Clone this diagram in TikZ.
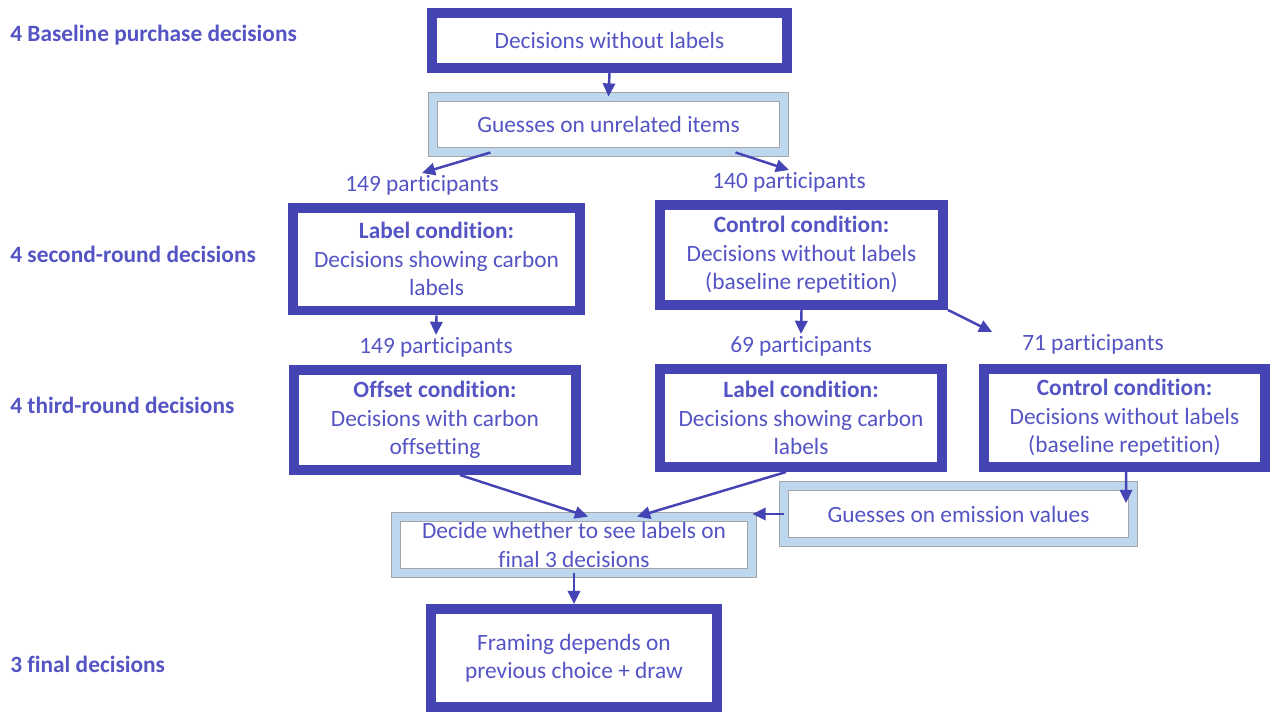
\documentclass[tikz,border=0pt]{standalone}
\usepackage{fontspec}
\setmainfont{Carlito}[Ligatures=NoCommon]
\usetikzlibrary{arrows.meta}
\definecolor{flowblue}{RGB}{68,68,180}
\definecolor{flowtext}{RGB}{84,84,196}
\definecolor{guessfill}{RGB}{189,215,238}
\definecolor{guessline}{RGB}{165,165,165}

\begin{document}
\begin{tikzpicture}[x=0.02cm, y=-0.02cm,
    every node/.style={text=flowtext, font=\fontsize{13.3}{16.2}\selectfont, align=center},
    block/.style={draw=flowblue, line width=0.2cm, fill=white, inner sep=0pt},
    guess/.style={draw=guessline, line width=0.5pt, double=guessfill, double distance=0.16cm, fill=white, inner sep=0pt},
    stage/.style={anchor=west, inner sep=0pt, font=\fontsize{13.3}{16.2}\selectfont\bfseries},
    count/.style={inner sep=1pt},
    arr/.style={draw=flowblue, line width=1.4pt, -{Triangle[length=7.5pt,width=7pt]}}]
    \useasboundingbox (0,0) rectangle (1273,711);

    \node[stage] (st1) at (10,35) {4 Baseline purchase decisions};
    \node[stage] (st2) at (10,254) {4 second-round decisions};
    \node[stage] (st3) at (10,405) {4 third-round decisions};
    \node[stage] (st4) at (10,664) {3 final decisions};

    \node[block, minimum width=7.1cm, minimum height=1.1cm] (base) at (609.5,40.5) {Decisions without labels};
    \node[guess, minimum width=7.02cm, minimum height=1.1cm] (unrel) at (608.5,124.5) {Guesses on unrelated items};

    \node[count] (p1) at (422,185) {149 participants};
    \node[count] (p2) at (789,182) {140 participants};

    \node[block, minimum width=5.74cm, minimum height=2.06cm] (lab2) at (436.5,259) {\textbf{Label condition:}\\Decisions showing carbon\\labels};
    \node[block, minimum width=5.66cm, minimum height=2cm] (ctl2) at (801.5,255) {\textbf{Control condition:}\\Decisions without labels\\(baseline repetition)};

    \node[count] (p3) at (436,347) {149 participants};
    \node[count] (p4) at (801,346) {69 participants};
    \node[count] (p5) at (1093,344) {71 participants};

    \node[block, minimum width=5.64cm, minimum height=2cm] (off3) at (435,420) {\textbf{Offset condition:}\\Decisions with carbon\\offsetting};
    \node[block, minimum width=5.64cm, minimum height=1.96cm] (lab3) at (801,418) {\textbf{Label condition:}\\Decisions showing carbon\\labels};
    \node[block, minimum width=5.62cm, minimum height=1.96cm] (ctl3) at (1124.5,418) {\textbf{Control condition:}\\Decisions without labels\\(baseline repetition)};

    \node[guess, minimum width=7.12cm, minimum height=1.12cm] (decide) at (574,545) {Decide whether to see labels on\\final 3 decisions};
    \node[guess, minimum width=6.98cm, minimum height=1.12cm] (emis) at (958.5,514) {Guesses on emission values};

    \node[block, minimum width=5.72cm, minimum height=1.96cm] (frame) at (574,658) {Framing depends on\\previous choice + draw};
    \coordinate (emtip) at (1126,503);

    \draw[arr] (base.south) -- (unrel.north);
    \draw[arr] ([xshift=-2.36cm]unrel.south) -- (p1.north);
    \draw[arr] ([xshift=2.54cm]unrel.south) -- (p2.north);
    \draw[arr] (lab2.south) -- (p3.north);
    \draw[arr] (ctl2.south) -- (p4.north);
    \draw[arr] (ctl2.south east) -- ([xshift=-0.56cm]p5.north west);
    \draw[arr] ([xshift=0.5cm]off3.south) -- ([xshift=0.28cm]decide.north);
    \draw[arr] ([xshift=-0.3cm]lab3.south) -- ([xshift=1.26cm]decide.north);
    \draw[arr] ([xshift=0.03cm]ctl3.south) -- (emtip);
    \draw[arr] (emis.west) -- (emis.west -| decide.east);
    \draw[arr] (decide.south) -- (frame.north);
\end{tikzpicture}
\end{document}
